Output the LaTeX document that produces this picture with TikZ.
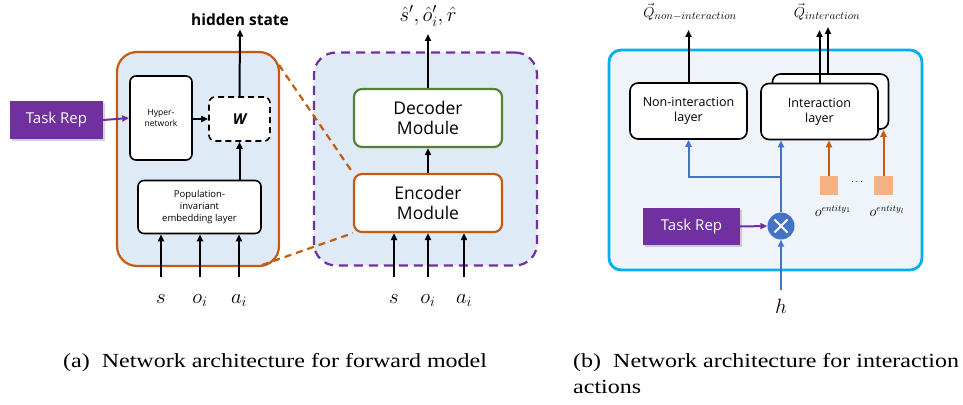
\documentclass[tikz,border=0pt]{standalone}
\usepackage{fontspec}
\usepackage{graphicx}
\setmainfont{Liberation Serif}
\newfontfamily\boxfont{Open Sans}
\usetikzlibrary{arrows.meta,shadows,calc}
\definecolor{lblue}{RGB}{222,235,247}
\definecolor{orng}{RGB}{197,90,17}
\definecolor{purp}{RGB}{112,48,160}
\definecolor{grn}{RGB}{84,130,53}
\definecolor{pale}{RGB}{239,243,250}
\definecolor{cyanb}{RGB}{0,176,240}
\definecolor{bblue}{RGB}{68,114,196}
\definecolor{sqfill}{RGB}{244,177,131}
\begin{document}
\begin{tikzpicture}[x=1pt,y=-1pt,
  arr/.style={-{Triangle[length=7pt,width=6pt]}, line width=2pt},
  barr/.style={arr, draw=bblue, color=bblue},
  oarr/.style={arr, draw=orng, color=orng},
  parr/.style={arr, draw=purp, color=purp},
  wbox/.style={draw=black, line width=1.6pt, fill=white, rounded corners=6pt, inner sep=0pt, align=center},
  task/.style={fill=purp, text=white, inner sep=0pt, font=\boxfont\fontsize{15}{17}\selectfont,
     drop shadow={opacity=0.35, shadow xshift=1.5pt, shadow yshift=-2pt}},
  mlab/.style={font=\fontsize{22}{24}\selectfont, anchor=base},
  captxt/.style={anchor=base west, font=\fontsize{20}{24}\selectfont, inner sep=0},
]
\useasboundingbox (0,0) rectangle (963,404);

% ---------- panel (a) left ----------
\node[draw=orng, line width=2.2pt, fill=lblue, rounded corners=20pt, minimum width=162pt, minimum height=214pt, inner sep=0] (boxA) at (198,159) {};
\node[task, minimum width=93pt, minimum height=38pt] (taskA) at (56.5,120) {Task Rep};
\node[wbox, minimum width=62pt, minimum height=84pt, font=\boxfont\fontsize{8.5}{10.5}\selectfont] (hyper) at (161,118) {Hyper-\\network};
\node[wbox, dashed, dash pattern=on 6pt off 4pt, minimum width=61pt, minimum height=44pt, font=\boxfont\bfseries\itshape\fontsize{15}{17}\selectfont] (W) at (239.5,119) {W};
\node[wbox, minimum width=123pt, minimum height=53pt, font=\boxfont\fontsize{9.5}{12}\selectfont] (pop) at (199.5,207) {Population-\\invariant\\embedding layer};
\node[font=\boxfont\bfseries\fontsize{15.5}{17}\selectfont] (hidden) at (240,20) {hidden state};

\draw[parr] (taskA.east) -- (hyper.west);
\draw[arr] (hyper.east |- W.west) -- (W.west);
\draw[arr] (pop.north -| W.south) -- (W.south);
\draw[arr] (W.north) -- (hidden.south);

\node[mlab] (sA) at (161,303) {$s$};
\node[mlab] (oA) at (200,303) {$o_i$};
\node[mlab] (aA) at (239,303) {$a_i$};
\coordinate (sA0) at (161,277);
\coordinate (oA0) at (200,277);
\coordinate (aA0) at (239,277);
\draw[arr] (sA0) -- (sA0 |- pop.south);
\draw[arr] (oA0) -- (oA0 |- pop.south);
\draw[arr] (aA0) -- (aA0 |- pop.south);

% ---------- panel (a) right ----------
\node[draw=purp, line width=2.2pt, dash pattern=on 9pt off 6pt, fill=lblue, rounded corners=22pt, minimum width=223pt, minimum height=213pt, inner sep=0] (boxB) at (425.5,159) {};
\node[wbox, draw=grn, line width=2.2pt, rounded corners=8pt, minimum width=148pt, minimum height=58pt, font=\boxfont\fontsize{17.5}{20}\selectfont] (dec) at (428,118) {Decoder\\Module};
\node[wbox, draw=orng, line width=2.2pt, rounded corners=8pt, minimum width=148pt, minimum height=58pt, font=\boxfont\fontsize{17.5}{20}\selectfont] (enc) at (428,203) {Encoder\\Module};
\draw[arr] (enc.north) -- (dec.south);
\node[font=\fontsize{20}{22}\selectfont, inner sep=1pt] (outB) at (428,16) {$\hat{s}',\hat{o}_i',\hat{r}$};
\coordinate (outB0) at (428,34);
\draw[arr] (dec.north) -- (outB0);

\node[mlab] (sB) at (394,303) {$s$};
\node[mlab] (oB) at (428,303) {$o_i$};
\node[mlab] (aB) at (464,303) {$a_i$};
\coordinate (sB0) at (394,277);
\coordinate (oB0) at (428,277);
\coordinate (aB0) at (464,277);
\draw[arr] (sB0) -- (sB0 |- enc.south);
\draw[arr] (oB0) -- (oB0 |- enc.south);
\draw[arr] (aB0) -- (aB0 |- enc.south);

% zoom lines
\coordinate (zA1) at (279,65);
\coordinate (zA2) at (262,265);
\draw[orng, line width=2.2pt, dash pattern=on 7pt off 5pt] (zA1) -- (enc.north west);
\draw[orng, line width=2.2pt, dash pattern=on 7pt off 5pt] (zA2) -- (enc.south west);

% ---------- panel (b) ----------
\node[draw=cyanb, line width=2.8pt, fill=pale, rounded corners=12pt, minimum width=313pt, minimum height=220pt, inner sep=0] (boxC) at (765.5,160) {};
\node[wbox, minimum width=117pt, minimum height=56pt, rounded corners=8pt, font=\boxfont\fontsize{12.5}{15}\selectfont] (nonint) at (688.5,111) {Non-interaction\\layer};
\node[wbox, minimum width=116pt, minimum height=55pt, rounded corners=8pt] (intback) at (830.5,101.5) {};
\node[wbox, minimum width=117pt, minimum height=56pt, rounded corners=8pt, font=\boxfont\fontsize{12.5}{15}\selectfont] (intfront) at (819.5,111.5) {Interaction\\layer};

\node[font=\fontsize{15.5}{17}\selectfont, inner sep=0pt] (qn) at (690,12) {$\vec{Q}_{non-interaction}$};
\node[font=\fontsize{15.5}{17}\selectfont, inner sep=0pt] (qi) at (827,12) {$\vec{Q}_{interaction}$};
\coordinate (qi1) at (819.5,30);
\coordinate (qi2) at (828,27);
\draw[arr] (nonint.north) -- (nonint.north |- qi1);
\draw[arr] (intfront.north -| qi1) -- (qi1);
\draw[arr] (intback.north -| qi2) -- (qi2);

\node[circle, fill=bblue, minimum size=27pt, inner sep=0] (circ) at (781,226) {};
\draw[white, line width=2pt] ($(circ)+(-6.5,-6.5)$) -- ($(circ)+(6.5,6.5)$) ($(circ)+(-6.5,6.5)$) -- ($(circ)+(6.5,-6.5)$);
\node[task, minimum width=97pt, minimum height=37pt] (taskB) at (691.5,226.5) {Task Rep};
\draw[parr] (taskB.east) -- (circ.west);

\coordinate (br) at (781,177);
\draw[barr] (circ.north) -- (circ.north |- intfront.south);
\draw[barr] (br) -| (nonint.south);

\node[mlab] (h) at (781,313) {$h$};
\coordinate (h0) at (781,290);
\draw[barr] (h0) -- (circ.south);

\node[fill=sqfill, minimum size=18.5pt, inner sep=0] (sq1) at (829,185.5) {};
\node[fill=sqfill, minimum size=18.5pt, inner sep=0] (sq2) at (883.5,185.5) {};
\node[font=\fontsize{10}{12}\selectfont] (dots) at (857,182) {$\cdots$};
\draw[oarr] (sq1.north) -- (sq1.north |- intfront.south);
\draw[oarr] (sq2.north) -- (sq2.north |- intback.south);
\node[font=\fontsize{13.5}{15}\selectfont] (e1) at (833,211) {$o^{entity_1}$};
\node[font=\fontsize{13.5}{15}\selectfont] (el) at (887,211) {$o^{entity_l}$};

% ---------- captions ----------
\node[captxt] (capA) at (63,367) {\scalebox{1.2}[1]{(a)\ \ Network architecture for forward model}};
\node[captxt] (capB) at (573,367) {\scalebox{1.2}[1]{(b)\ \ Network architecture for interaction}};
\node[captxt] (capB2) at (573,393) {\scalebox{1.2}[1]{actions}};
\end{tikzpicture}
\end{document}
